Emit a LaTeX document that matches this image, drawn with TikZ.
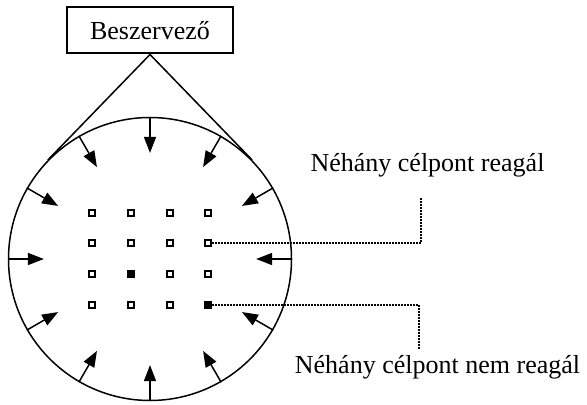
\documentclass[tikz,border=0pt]{standalone}
\usepackage{fontspec}
\setmainfont{Liberation Serif}
\usetikzlibrary{arrows.meta,calc}

\begin{document}
\begin{tikzpicture}[x=0.5pt,y=-0.5pt,
    txt/.style={font=\fontsize{13}{15}\selectfont},
    cell/.style={draw,line width=1pt,minimum size=3pt,inner sep=0pt},
    push/.style={line width=0.75pt,-{Triangle[length=8pt,width=6pt]}},
    lead/.style={line width=0.75pt,dash pattern=on 0.75pt off 0.75pt}]
     \useasboundingbox (0,0) rectangle (587,405);
     % beszervezo and its target area
     \node[txt,draw,line width=1pt,minimum width=83pt,minimum height=23pt,
           inner sep=0pt] (boss) at (150,30.5) {Beszervező};
     \node[circle,draw,line width=0.75pt,minimum size=141.5pt,inner sep=0pt]
           (ring) at (150,259) {};
     \coordinate (tl) at (tangent cs:node=ring,point={(boss.south)},solution=2);
     \coordinate (tr) at (tangent cs:node=ring,point={(boss.south)},solution=1);
     \draw[line width=0.75pt] (tl) -- (boss.south) -- (tr);
     % arrows pointing inwards
     \foreach \a in {0,30,...,330}
       \draw[push] (ring.\a) -- ($(ring.center)!0.746!(ring.\a)$);
     % targets
     \foreach \r/\y in {1/213,2/243,3/274,4/305}
       \foreach \c/\x in {1/92,2/131,3/170,4/208}
         \node[cell] (p-\r-\c) at (\x,\y) {};
     \fill[black] (p-3-2.south west) rectangle (p-3-2.north east);
     \fill[black] (p-4-4.south west) rectangle (p-4-4.north east);
     % labels
     \node[txt,anchor=base] (yes) at (427.5,172) {Néhány célpont reagál};
     \node[txt,anchor=base] (no)  at (437.5,373) {Néhány célpont nem reagál};
     \coordinate (t1) at (421,197);
     \coordinate (t2) at (419,350);
     \draw[lead] (p-2-4.east) -| (t1);
     \draw[lead] (p-4-4.east) -| (t2);
    \end{tikzpicture}
\end{document}
